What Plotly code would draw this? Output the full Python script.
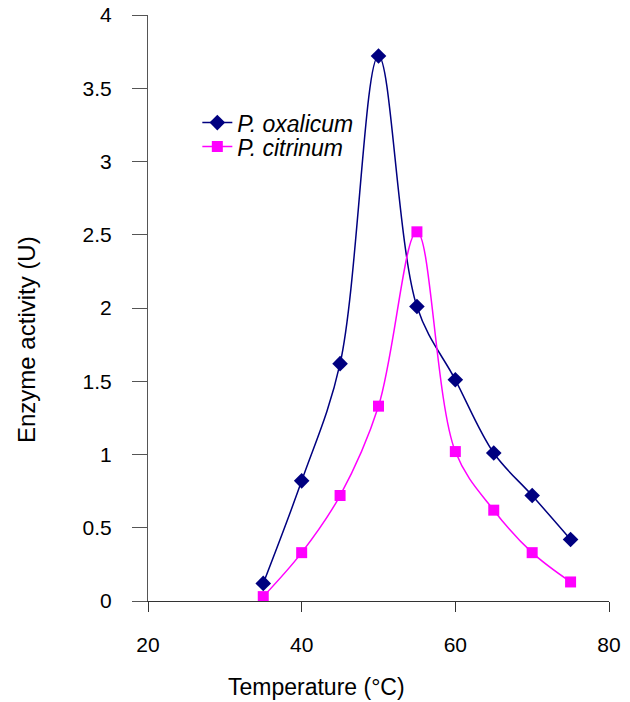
import plotly.graph_objects as go

temperature = [35, 40, 45, 50, 55, 60, 65, 70, 75]
p_oxalicum = [0.12, 0.82, 1.62, 3.72, 2.01, 1.51, 1.01, 0.72, 0.42]
p_citrinum = [0.03, 0.33, 0.72, 1.33, 2.52, 1.02, 0.62, 0.33, 0.13]
x_ticks = [20, 40, 60, 80]
y_ticks = [0, 0.5, 1, 1.5, 2, 2.5, 3, 3.5, 4]
y_tick_labels = ["0", "0.5", "1", "1.5", "2", "2.5", "3", "3.5", "4"]

FONT = "Liberation Sans, Arial, sans-serif"

# page body has an 8px margin; size the figure so the plot lands where the reference has it
W, H = 622, 694
L, R, T, B = 140, 21, 7, 101
PW, PH = W - L - R, H - T - B

fig = go.Figure()
fig.add_trace(go.Scatter(
    x=temperature, y=p_oxalicum, mode="lines+markers", name="P. oxalicum",
    line=dict(color="#000080", width=1.5, shape="spline", smoothing=1.0),
    marker=dict(symbol="diamond", size=12, color="#000080"),
    legend="legend",
))
fig.add_trace(go.Scatter(
    x=temperature, y=p_citrinum, mode="lines+markers", name="P. citrinum",
    line=dict(color="#FF00FF", width=1.5, shape="spline", smoothing=1.0),
    marker=dict(symbol="square", size=11, color="#FF00FF"),
    legend="legend2",
))

legend_style = dict(
    xanchor="left", yanchor="top",
    bgcolor="rgba(0,0,0,0)", borderwidth=0,
    font=dict(family=FONT, size=23, style="italic", color="black"),
)

fig.update_layout(
    width=W, height=H,
    margin=dict(l=L, r=R, t=T, b=B, autoexpand=False),
    plot_bgcolor="white", paper_bgcolor="white",
    font=dict(family=FONT, size=21, color="black"),
    showlegend=True,
    legend=dict(x=0.107, y=0.853, **legend_style),
    legend2=dict(x=0.107, y=0.812, **legend_style),
    xaxis=dict(
        range=[20, 80], tickvals=x_ticks, ticktext=[str(v) for v in x_ticks],
        showgrid=False, zeroline=False, showline=True, linecolor="#333333", linewidth=1,
        ticks="outside", ticklen=10, tickcolor="#333333",
        ticklabelstandoff=15, automargin=False, ticklabeloverflow="allow",
        tickfont=dict(size=21),
    ),
    yaxis=dict(
        range=[0, 4], tickvals=y_ticks, ticktext=y_tick_labels,
        showgrid=False, zeroline=False, showline=True, linecolor="#555555", linewidth=1,
        ticks="outside", ticklen=15, tickcolor="#555555",
        ticklabelstandoff=16, automargin=False, ticklabeloverflow="allow",
        tickfont=dict(size=21),
    ),
    annotations=[
        dict(text="Temperature (°C)", xref="paper", yref="paper",
             x=(316 - 148) / PW, y=-(687 - 601) / PH, xanchor="center", yanchor="middle",
             showarrow=False, font=dict(size=23)),
        dict(text="Enzyme activity (U)", xref="paper", yref="paper",
             x=-(148 - 26) / PW, y=(601 - 339) / PH, xanchor="center", yanchor="middle",
             textangle=-90, showarrow=False, font=dict(size=24)),
    ],
)

fig.write_html("out.html")
